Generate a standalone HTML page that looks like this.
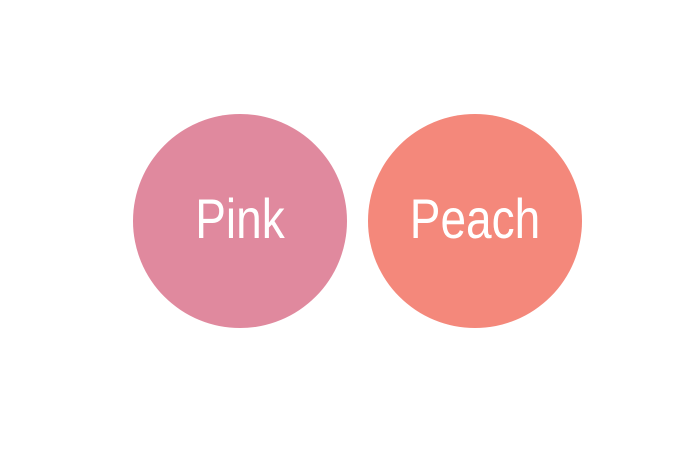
<!DOCTYPE html>
<html><head><meta charset="utf-8"><style>
html,body{margin:0;padding:0;background:#fff;}
svg{display:block;}
text{font-family:"Liberation Sans",sans-serif;font-size:46px;fill:#fff;}
</style></head><body>
<svg width="700" height="450">
<g>
<circle cx="240" cy="221" r="107" fill="#E0899E"/>
<text x="240" y="0" text-anchor="middle" transform="translate(0,238) scale(1,1.2)">Pink</text>
</g>
<g>
<circle cx="475" cy="221" r="107" fill="#F4887B"/>
<text x="475" y="0" text-anchor="middle" transform="translate(0,238) scale(1,1.2)">Peach</text>
</g>
</svg>
</body></html>
